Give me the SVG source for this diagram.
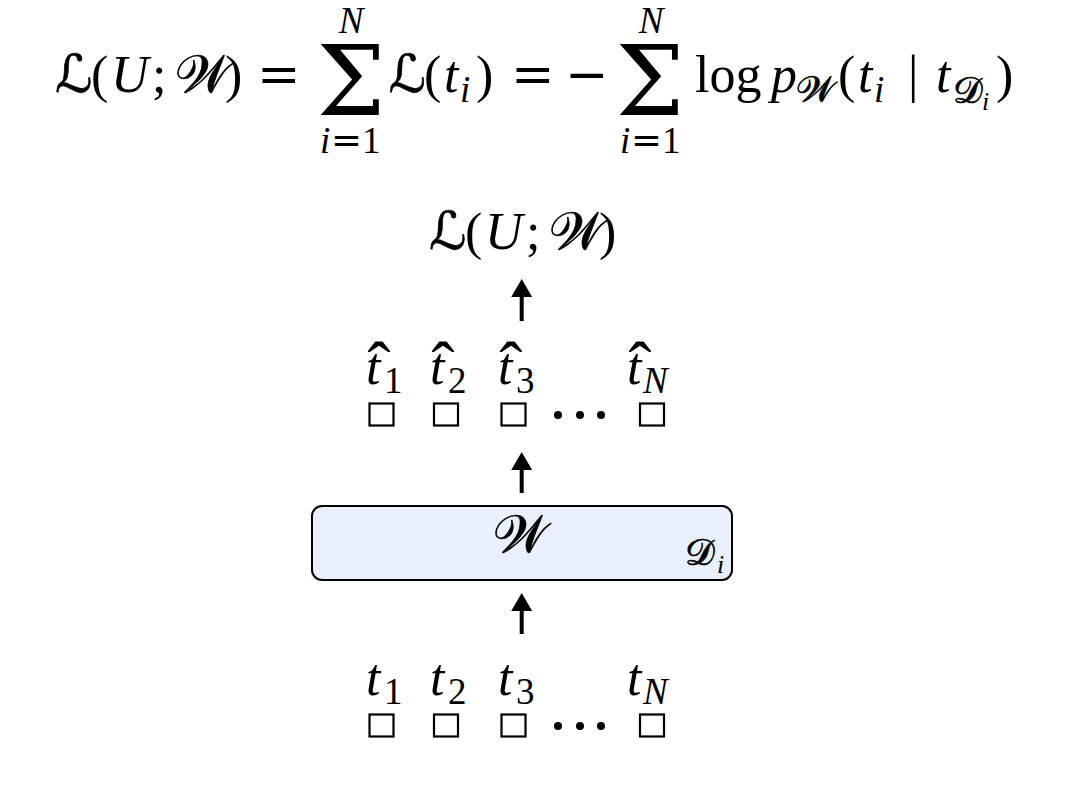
<svg xmlns="http://www.w3.org/2000/svg" width="1067" height="786" viewBox="0 0 1067 786">
<defs>
<style>
.m{font-family:"Liberation Serif",serif;font-size:52px;fill:#000}
.it{font-style:italic}
.s{font-size:37px}
.ss{font-size:26px}
.sc{font-family:"DejaVu Serif","DejaVu Sans","Noto Sans",serif;font-style:normal;stroke:#000;stroke-width:0.7}
.op{font-family:"DejaVu Serif",serif;font-style:normal}
.big{font-family:"DejaVu Serif",serif;font-size:97px}
.hat{font-size:70px}
.mid{text-anchor:middle}
.sq{fill:none;stroke:#000;stroke-width:2.2}
.dot{fill:#000}
.arr{stroke:#000;stroke-width:4;fill:none}
.box{fill:#e9effb;stroke:#000;stroke-width:2}
</style>
<marker id="ah" markerUnits="userSpaceOnUse" markerWidth="18" markerHeight="21" viewBox="0 0 18 21" refX="0" refY="10.5" orient="auto">
<path d="M0,0 L18,10.5 L0,21 Z" fill="#000"/>
</marker>
</defs>
<rect width="1067" height="786" fill="#fff"/>

<g id="formula">
<text class="m"><tspan x="55" y="92" class="sc">ℒ</tspan><tspan x="91" y="92">(</tspan><tspan x="111" y="92" class="it">U</tspan><tspan x="152" y="92">;</tspan><tspan x="175" y="92" class="sc">𝒲</tspan><tspan x="225" y="92">)</tspan><tspan x="257" y="92" class="op">=</tspan><tspan x="351" y="115" class="big mid">Σ</tspan><tspan x="351" y="33" class="s it mid">N</tspan><tspan x="320" y="153" class="s it">i</tspan><tspan x="331" y="153" class="s"><tspan class="op">=</tspan>1</tspan><tspan x="388.5" y="92" class="sc">ℒ</tspan><tspan x="424" y="92">(</tspan><tspan x="444" y="92" class="it">t</tspan><tspan x="460" y="102" class="s it">i</tspan><tspan x="476" y="92">)</tspan><tspan x="511" y="92" class="op">=</tspan><tspan x="565" y="92" class="op">−</tspan><tspan x="650" y="115" class="big mid">Σ</tspan><tspan x="651" y="33" class="s it mid">N</tspan><tspan x="620" y="153" class="s it">i</tspan><tspan x="631" y="153" class="s"><tspan class="op">=</tspan>1</tspan><tspan x="695" y="92">log</tspan><tspan x="771" y="92" class="it">p</tspan><tspan x="796" y="102" class="s sc">𝒲</tspan><tspan x="838" y="92">(</tspan><tspan x="858" y="92" class="it">t</tspan><tspan x="874" y="102" class="s it">i</tspan><tspan x="908" y="92">|</tspan><tspan x="936" y="92" class="it">t</tspan><tspan x="953" y="103" class="s sc">𝒟</tspan><tspan x="982" y="110" class="ss it">i</tspan><tspan x="996" y="92">)</tspan></text>
</g>

<g id="loss">
<text class="m"><tspan x="429" y="249" class="sc">ℒ</tspan><tspan x="465" y="249">(</tspan><tspan x="485" y="249" class="it">U</tspan><tspan x="526" y="249">;</tspan><tspan x="549" y="249" class="sc">𝒲</tspan><tspan x="599" y="249">)</tspan></text>
</g>

<g id="outputs">
<text class="m"><tspan x="379" y="390" class="hat mid">ˆ</tspan><tspan x="366" y="384" class="it">t</tspan><tspan x="384" y="393" class="s">1</tspan><tspan x="443" y="390" class="hat mid">ˆ</tspan><tspan x="430" y="384" class="it">t</tspan><tspan x="448" y="393" class="s">2</tspan><tspan x="511" y="390" class="hat mid">ˆ</tspan><tspan x="498" y="384" class="it">t</tspan><tspan x="516" y="393" class="s">3</tspan><tspan x="640" y="390" class="hat mid">ˆ</tspan><tspan x="627" y="384" class="it">t</tspan><tspan x="643" y="393" class="s it">N</tspan></text>
<rect class="sq" x="369.5" y="403.5" width="24" height="22"/>
<rect class="sq" x="434" y="403.5" width="24" height="22"/>
<rect class="sq" x="501.5" y="403.5" width="24" height="22"/>
<rect class="sq" x="640" y="403.5" width="24" height="22"/>
<circle class="dot" cx="558" cy="415" r="4"/>
<circle class="dot" cx="580" cy="415" r="4"/>
<circle class="dot" cx="601" cy="415" r="4"/>
</g>

<g id="model">
<rect class="box" x="312" y="506" width="420" height="74" rx="10" ry="10"/>
<text class="m"><tspan x="520" y="552" class="sc mid">𝒲</tspan><tspan x="685" y="565" class="s sc">𝒟</tspan><tspan x="717" y="573" class="ss it">i</tspan></text>
</g>

<g id="inputs">
<text class="m"><tspan x="366" y="695" class="it">t</tspan><tspan x="384" y="704" class="s">1</tspan><tspan x="430" y="695" class="it">t</tspan><tspan x="448" y="704" class="s">2</tspan><tspan x="498" y="695" class="it">t</tspan><tspan x="516" y="704" class="s">3</tspan><tspan x="627" y="695" class="it">t</tspan><tspan x="643" y="704" class="s it">N</tspan></text>
<rect class="sq" x="369.5" y="714.5" width="24" height="22"/>
<rect class="sq" x="434" y="714.5" width="24" height="22"/>
<rect class="sq" x="501.5" y="714.5" width="24" height="22"/>
<rect class="sq" x="640" y="714.5" width="24" height="22"/>
<circle class="dot" cx="558" cy="726" r="4"/>
<circle class="dot" cx="580" cy="726" r="4"/>
<circle class="dot" cx="601" cy="726" r="4"/>
</g>

<g id="connectors">
<line class="arr" x1="521.7" y1="321" x2="521.7" y2="297" marker-end="url(#ah)"/>
<line class="arr" x1="521.7" y1="493" x2="521.7" y2="470" marker-end="url(#ah)"/>
<line class="arr" x1="521.7" y1="634" x2="521.7" y2="611" marker-end="url(#ah)"/>
</g>
</svg>
